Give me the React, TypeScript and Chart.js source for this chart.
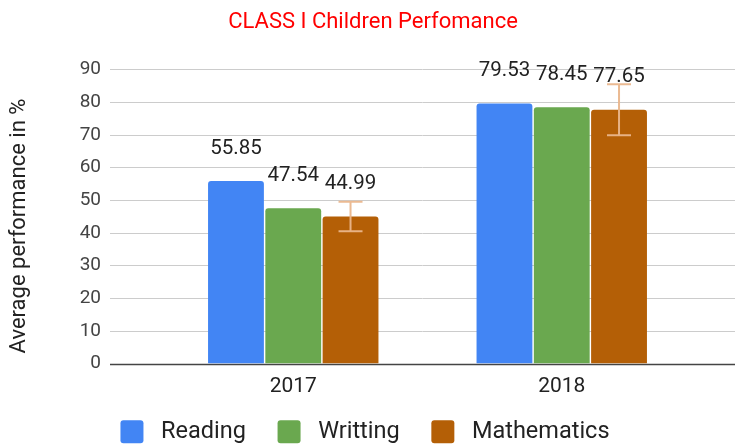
import { useEffect, useRef } from 'react';
import { Chart, registerables } from 'chart.js';

Chart.register(...registerables);

const categories = ['2017', '2018'];
const seriesNames = ['Reading', 'Writting', 'Mathematics'];
const reading = [55.85, 79.53];
const writting = [47.54, 78.45];
const mathematics = [44.99, 77.65];
const mathematicsError = [4.5, 7.77];
const yTickValues = [0, 10, 20, 30, 40, 50, 60, 70, 80, 90];
const chartTitle = 'CLASS I Children Perfomance';
const yAxisTitle = 'Average performance in %';

const seriesColors = ['#4285f4', '#6aa84f', '#b45f06'];
const FONT = 'Roboto, "Noto Sans", sans-serif';

const customPlugin = {
  id: 'customDecor',
  beforeDatasetsDraw(chart: any) {
    const { ctx } = chart;
    const y = chart.scales.y;
    ctx.save();
    yTickValues.forEach((v) => {
      const py = Math.round(y.getPixelForValue(v)) + 0.5;
      ctx.beginPath();
      ctx.moveTo(110, py);
      ctx.lineTo(735, py);
      if (v === 0) {
        ctx.strokeStyle = '#444444';
        ctx.lineWidth = 1.5;
      } else {
        ctx.strokeStyle = '#cccccc';
        ctx.lineWidth = 1;
      }
      ctx.stroke();
    });
    ctx.restore();
  },
  afterDatasetsDraw(chart: any) {
    const { ctx } = chart;
    const y = chart.scales.y;
    ctx.save();
    // error bars on Mathematics
    const meta = chart.getDatasetMeta(2);
    meta.data.forEach((bar: any, i: number) => {
      const v = mathematics[i];
      const e = mathematicsError[i];
      const yTop = y.getPixelForValue(v + e);
      const yBot = y.getPixelForValue(v - e);
      const x = bar.x;
      ctx.strokeStyle = 'rgba(234, 182, 140, 0.95)';
      ctx.lineWidth = 2;
      ctx.beginPath();
      ctx.moveTo(x, yTop);
      ctx.lineTo(x, yBot);
      ctx.moveTo(x - 12, yTop);
      ctx.lineTo(x + 12, yTop);
      ctx.moveTo(x - 12, yBot);
      ctx.lineTo(x + 12, yBot);
      ctx.stroke();
    });
    // data labels
    ctx.fillStyle = '#222222';
    ctx.font = `20.5px ${FONT}`;
    ctx.textAlign = 'center';
    ctx.textBaseline = 'middle';
    chart.data.datasets.forEach((ds: any, di: number) => {
      const m = chart.getDatasetMeta(di);
      m.data.forEach((bar: any, i: number) => {
        ctx.fillText(Number(ds.data[i]).toFixed(2), bar.x, bar.y - 32.5);
      });
    });
    ctx.restore();
  },
  afterDraw(chart: any) {
    const { ctx } = chart;
    ctx.save();
    ctx.fillStyle = '#ff0000';
    ctx.font = `22px ${FONT}`;
    ctx.textAlign = 'center';
    ctx.textBaseline = 'middle';
    ctx.fillText(chartTitle, 373, 22);
    ctx.translate(19, 226);
    ctx.rotate(-Math.PI / 2);
    ctx.fillStyle = '#222222';
    ctx.font = `22px ${FONT}`;
    ctx.fillText(yAxisTitle, 0, 0);
    ctx.restore();
  },
};

export default function App() {
  const canvasRef = useRef<HTMLCanvasElement | null>(null);

  useEffect(() => {
    document.body.style.margin = '0';
    const canvas = canvasRef.current;
    if (!canvas) return;
    const values = [reading, writting, mathematics];
    const chart = new Chart(canvas, {
      type: 'bar',
      data: {
        labels: categories,
        datasets: seriesNames.map((name, i) => ({
          label: name,
          data: values[i],
          backgroundColor: seriesColors[i],
          borderWidth: 0,
          borderRadius: 3,
          categoryPercentage: 0.64,
          barPercentage: 0.975,
        })),
      },
      options: {
        animation: false,
        responsive: false,
        layout: { padding: { left: 34, right: 39, top: 69, bottom: -6.5 } },
        scales: {
          x: {
            grid: { display: false, drawTicks: false },
            border: { display: false },
            ticks: {
              color: '#222222',
              font: { family: FONT, size: 21 },
              padding: 11,
            },
            afterFit: (scale: any) => {
              scale.height = 36.5;
            },
          },
          y: {
            min: 0,
            max: 90,
            grid: { display: false, drawTicks: false },
            border: { display: false },
            ticks: {
              stepSize: 10,
              color: '#444444',
              font: { family: FONT, size: 19 },
              padding: 58,
            },
            afterFit: (scale: any) => {
              scale.width = 125;
            },
          },
        },
        plugins: {
          title: { display: false },
          tooltip: { enabled: false },
          legend: {
            position: 'bottom',
            labels: {
              color: '#222222',
              font: { family: FONT, size: 23.5 },
              boxWidth: 23,
              boxHeight: 23,
              padding: 20,
              useBorderRadius: true,
              borderRadius: 3,
              generateLabels: (c: any) => {
                const items = Chart.defaults.plugins.legend.labels.generateLabels(c);
                return items.map((l: any, idx: number) => ({
                  ...l,
                  text: ' ' + l.text + (idx < items.length - 1 ? '  ' : ''),
                  lineWidth: 0,
                }));
              },
            },
          },
        },
      },
      plugins: [customPlugin],
    });
    return () => chart.destroy();
  }, []);

  return (
    <div style={{ position: 'fixed', left: 0, top: 0, width: 735, height: 447, background: '#ffffff' }}>
      <canvas ref={canvasRef} width={735} height={447} style={{ display: 'block' }} />
    </div>
  );
}
